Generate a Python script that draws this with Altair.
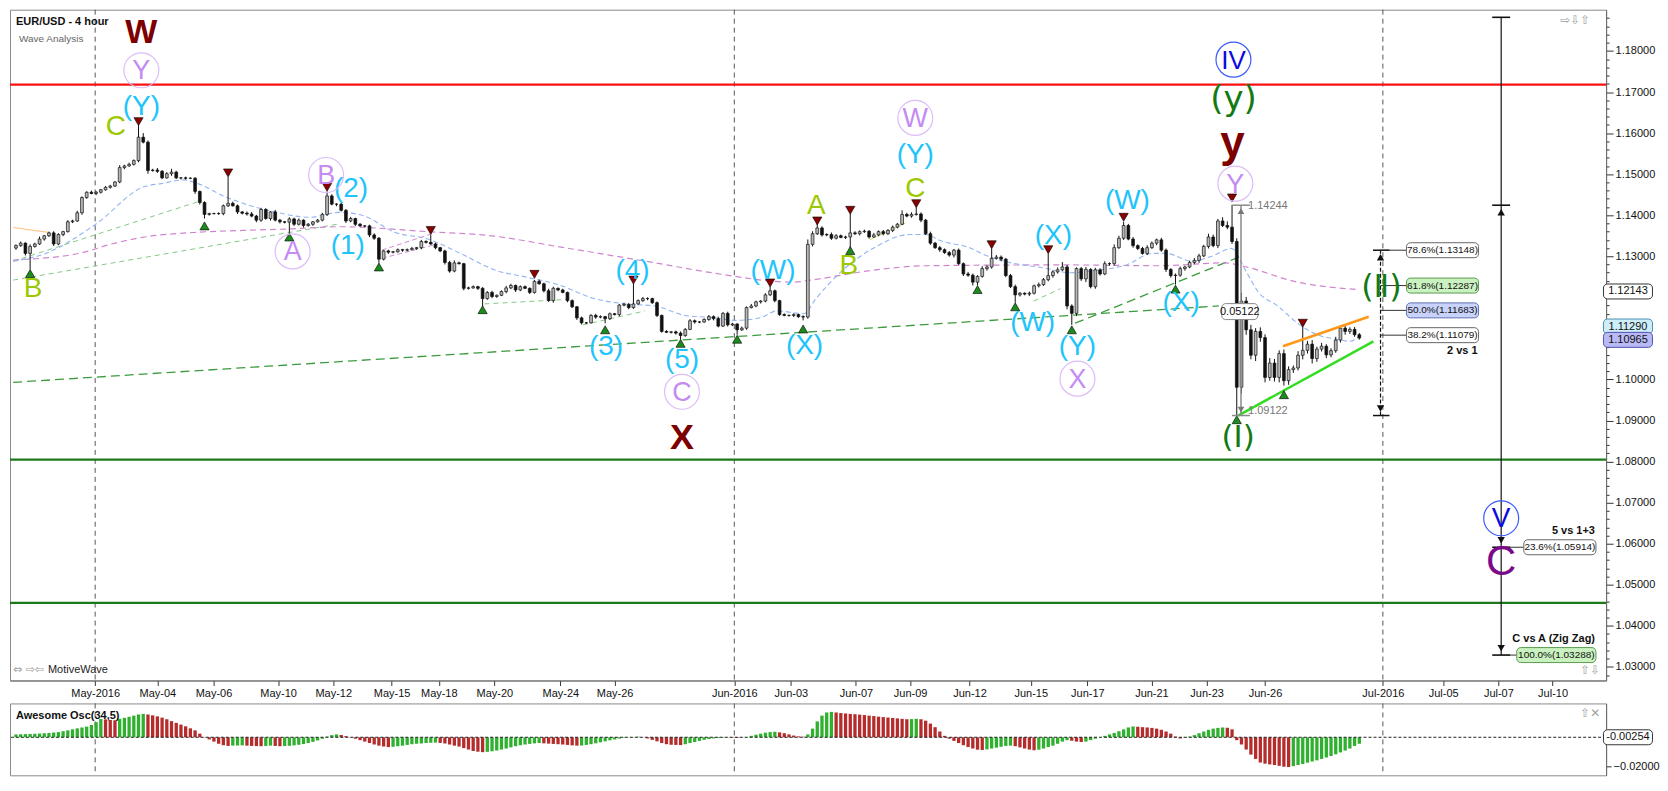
import altair as alt
import pandas as pd

FONT = "Liberation Sans"

# ---------------- data ----------------
first_open = 1.1320
closes = [
    1.1326, 1.1332, 1.1307, 1.1324, 1.1330, 1.1342, 1.1350, 1.1357, 1.1330, 1.1353,
    1.1360, 1.1384, 1.1386, 1.1406, 1.1443, 1.1456, 1.1453, 1.1456, 1.1462, 1.1468,
    1.1471, 1.1481, 1.1516, 1.1520, 1.1524, 1.1533, 1.1590, 1.1578, 1.1509, 1.1510,
    1.1507, 1.1491, 1.1501, 1.1505, 1.1491, 1.1491, 1.1490, 1.1490, 1.1458, 1.1431,
    1.1402, 1.1404, 1.1404, 1.1404, 1.1423, 1.1429, 1.1423, 1.1408, 1.1405, 1.1403,
    1.1398, 1.1388, 1.1414, 1.1392, 1.1408, 1.1388, 1.1384, 1.1383, 1.1391, 1.1378,
    1.1388, 1.1375, 1.1378, 1.1384, 1.1388, 1.1402, 1.1447, 1.1427, 1.1427, 1.1412,
    1.1386, 1.1392, 1.1378, 1.1374, 1.1374, 1.1352, 1.1344, 1.1293, 1.1313, 1.1310,
    1.1311, 1.1316, 1.1315, 1.1316, 1.1319, 1.1321, 1.1336, 1.1334, 1.1330, 1.1321,
    1.1313, 1.1285, 1.1264, 1.1284, 1.1282, 1.1222, 1.1223, 1.1226, 1.1222, 1.1197,
    1.1212, 1.1202, 1.1205, 1.1214, 1.1223, 1.1229, 1.1218, 1.1226, 1.1222, 1.1212,
    1.1239, 1.1233, 1.1216, 1.1192, 1.1222, 1.1218, 1.1212, 1.1192, 1.1177, 1.1150,
    1.1138, 1.1138, 1.1156, 1.1152, 1.1153, 1.1148, 1.1160, 1.1158, 1.1181, 1.1183,
    1.1175, 1.1184, 1.1192, 1.1197, 1.1197, 1.1187, 1.1156, 1.1117, 1.1115, 1.1116,
    1.1113, 1.1107, 1.1122, 1.1143, 1.1140, 1.1140, 1.1146, 1.1153, 1.1148, 1.1130,
    1.1161, 1.1133, 1.1135, 1.1121, 1.1125, 1.1175, 1.1179, 1.1189, 1.1191, 1.1206,
    1.1216, 1.1192, 1.1158, 1.1156, 1.1156, 1.1158, 1.1153, 1.1152, 1.1329, 1.1355,
    1.1369, 1.1352, 1.1353, 1.1344, 1.1350, 1.1346, 1.1347, 1.1357, 1.1355, 1.1360,
    1.1361, 1.1347, 1.1352, 1.1360, 1.1355, 1.1363, 1.1371, 1.1378, 1.1402, 1.1398,
    1.1402, 1.1403, 1.1388, 1.1355, 1.1332, 1.1321, 1.1316, 1.1309, 1.1303, 1.1315,
    1.1282, 1.1257, 1.1254, 1.1237, 1.1251, 1.1270, 1.1274, 1.1295, 1.1298, 1.1293,
    1.1253, 1.1226, 1.1206, 1.1210, 1.1208, 1.1210, 1.1228, 1.1231, 1.1243, 1.1253,
    1.1262, 1.1267, 1.1274, 1.1179, 1.1161, 1.1270, 1.1245, 1.1268, 1.1226, 1.1267,
    1.1257, 1.1282, 1.1282, 1.1321, 1.1344, 1.1375, 1.1342, 1.1326, 1.1319, 1.1307,
    1.1321, 1.1332, 1.1340, 1.1315, 1.1268, 1.1253, 1.1254, 1.1270, 1.1274, 1.1285,
    1.1290, 1.1301, 1.1324, 1.1347, 1.1326, 1.1386, 1.1375, 1.1371, 1.1336, 1.0981,
    1.1191, 1.1121, 1.1059, 1.1117, 1.1102, 1.1005, 1.1040, 1.1005, 1.1063, 1.0997,
    1.1024, 1.1028, 1.1059, 1.1071, 1.1086, 1.1051, 1.1074, 1.1081, 1.1060, 1.1070,
    1.1096, 1.1125, 1.1117, 1.1122, 1.1109, 1.1101,
]
# upper / lower shadow lengths in pips
wick_hi = [
    3, 4, 2, 5, 3, 6, 2, 3, 4, 3,   2, 4, 3, 5, 3, 2, 4, 3, 2, 3,
    3, 2, 6, 3, 4, 3, 31, 10, 4, 3,  5, 3, 4, 8, 3, 2, 3, 2, 3, 2,
    3, 2, 2, 3, 3, 64, 4, 3, 2, 4,  5, 3, 4, 3, 2, 5, 3, 2, 4, 3,
    4, 2, 3, 2, 3, 4, 11, 4, 2, 3,  3, 4, 2, 3, 2, 3, 4, 3, 2, 3,
    2, 3, 2, 3, 4, 2, 4, 3, 18, 3,  2, 3, 4, 6, 3, 2, 3, 3, 2, 3,
    3, 4, 2, 3, 5, 4, 2, 3, 3, 2,   3, 4, 3, 5, 4, 2, 3, 2, 3, 2,
    3, 2, 3, 4, 3, 2, 3, 2, 3, 4,   3, 49, 3, 4, 3, 2, 3, 2, 3, 2,
    3, 4, 3, 4, 3, 2, 3, 4, 3, 5,   3, 4, 3, 2, 4, 3, 5, 3, 2, 4,
    10, 3, 2, 3, 2, 3, 2, 3, 12, 6, 10, 4, 3, 5, 4, 3, 3, 46, 4, 3,
    4, 3, 5, 3, 4, 3, 4, 3, 10, 4,  5, 16, 4, 3, 5, 3, 4, 3, 4, 3,
    4, 3, 5, 4, 3, 6, 4, 24, 5, 4,  3, 4, 5, 3, 2, 4, 3, 5, 4, 54,
    4, 6, 12, 5, 4, 3, 4, 6, 3, 5,  4, 6, 3, 8, 6, 9, 4, 5, 3, 4,
    6, 4, 3, 5, 4, 3, 4, 5, 3, 4,   6, 5, 4, 8, 6, 5, 9, 10, 54, 8,
    20, 10, 12, 8, 10, 8, 12, 10, 8, 10, 8, 6, 10, 57, 8, 10, 6, 8, 5, 6,
    8, 6, 10, 5, 6, 4,
]
wick_lo = [
    4, 3, 5, 39, 3, 2, 4, 3, 5, 3,  4, 2, 3, 2, 5, 3, 2, 4, 3, 2,
    3, 2, 3, 4, 2, 3, 4, 3, 8, 3,   4, 3, 2, 5, 3, 4, 3, 2, 6, 5,
    10, 3, 2, 3, 4, 3, 2, 5, 3, 4,  3, 5, 4, 3, 5, 3, 4, 3, 26, 4,
    3, 5, 3, 4, 2, 3, 4, 3, 5, 3,   5, 3, 4, 2, 3, 5, 4, 9, 3, 4,
    3, 2, 4, 3, 2, 3, 4, 3, 2, 4,   3, 5, 4, 3, 2, 5, 3, 2, 4, 19,
    3, 4, 3, 2, 4, 3, 5, 3, 2, 4,   3, 2, 4, 3, 5, 3, 2, 4, 3, 5,
    4, 3, 2, 4, 3, 11, 3, 2, 4, 3,  4, 3, 2, 3, 4, 3, 4, 3, 2, 3,
    4, 9, 3, 2, 4, 3, 2, 3, 4, 3,   2, 4, 3, 12, 3, 4, 2, 3, 4, 3,
    3, 4, 3, 2, 3, 4, 3, 8, 4, 5,   3, 4, 3, 4, 3, 2, 4, 29, 3, 4,
    3, 4, 2, 3, 4, 3, 4, 3, 2, 3,   4, 3, 5, 3, 4, 3, 5, 3, 4, 6,
    3, 5, 4, 8, 8, 3, 5, 4, 3, 5,   4, 3, 19, 4, 3, 5, 3, 4, 3, 4,
    5, 4, 3, 8, 28, 6, 5, 8, 4, 5,  4, 3, 5, 4, 3, 4, 3, 5, 4, 3,
    4, 3, 5, 4, 6, 5, 22, 4, 5, 3,  4, 6, 3, 5, 4, 6, 4, 5, 6, 69,
    15, 12, 10, 14, 10, 12, 8, 10, 12, 12, 10, 8, 6, 10, 8, 12, 8, 6, 8, 6,
    5, 6, 8, 6, 5, 4,
]
# Awesome Oscillator (34,5), one value per bar
ao_values = [
    0.0020, 0.0021, 0.0022, 0.0023, 0.0024, 0.0026, 0.0028, 0.0030, 0.0033, 0.0036,
    0.0042, 0.0048, 0.0055, 0.0062, 0.0068, 0.0074, 0.0085, 0.0105, 0.0126, 0.0124,
    0.0120, 0.0118, 0.0128, 0.0135, 0.0142, 0.0150, 0.0158, 0.0162, 0.0158, 0.0152,
    0.0145, 0.0136, 0.0125, 0.0112, 0.0100, 0.0088, 0.0076, 0.0062, 0.0048, 0.0025,
    0.0002, -0.0015, -0.0030, -0.0045, -0.0055, -0.0060, -0.0058, -0.0057, -0.0056, -0.0058,
    -0.0060, -0.0061, -0.0062, -0.0060, -0.0058, -0.0060, -0.0062, -0.0061, -0.0059, -0.0056,
    -0.0052, -0.0047, -0.0040, -0.0032, -0.0022, -0.0010, 0.0005, 0.0015, 0.0020, 0.0016,
    0.0008, -0.0002, -0.0010, -0.0020, -0.0030, -0.0040, -0.0050, -0.0058, -0.0064, -0.0068,
    -0.0066, -0.0062, -0.0058, -0.0053, -0.0048, -0.0045, -0.0043, -0.0040, -0.0038, -0.0037,
    -0.0039, -0.0043, -0.0050, -0.0058, -0.0064, -0.0075, -0.0085, -0.0095, -0.0100, -0.0103,
    -0.0101, -0.0097, -0.0092, -0.0085, -0.0078, -0.0070, -0.0062, -0.0055, -0.0050, -0.0046,
    -0.0042, -0.0040, -0.0042, -0.0044, -0.0046, -0.0048, -0.0050, -0.0053, -0.0056, -0.0058,
    -0.0057, -0.0053, -0.0048, -0.0042, -0.0035, -0.0028, -0.0021, -0.0015, -0.0009, -0.0004,
    -0.0001, 0.0002, 0.0004, 0.0001, -0.0008, -0.0018, -0.0028, -0.0040, -0.0048, -0.0052,
    -0.0053, -0.0054, -0.0048, -0.0040, -0.0033, -0.0025, -0.0018, -0.0012, -0.0008, -0.0005,
    -0.0003, -0.0002, -0.0003, -0.0005, -0.0003, 0.0002, 0.0010, 0.0018, 0.0025, 0.0032,
    0.0036, 0.0038, 0.0034, 0.0028, 0.0020, 0.0012, 0.0006, 0.0004, 0.0020, 0.0060,
    0.0110, 0.0150, 0.0172, 0.0176, 0.0172, 0.0168, 0.0165, 0.0162, 0.0160, 0.0157,
    0.0154, 0.0150, 0.0147, 0.0143, 0.0140, 0.0137, 0.0134, 0.0131, 0.0128, 0.0125,
    0.0126, 0.0128, 0.0125, 0.0115, 0.0095, 0.0070, 0.0040, 0.0010, -0.0010, -0.0025,
    -0.0040, -0.0055, -0.0068, -0.0078, -0.0086, -0.0088, -0.0084, -0.0078, -0.0072, -0.0066,
    -0.0060, -0.0058, -0.0062, -0.0070, -0.0078, -0.0085, -0.0090, -0.0086, -0.0078, -0.0068,
    -0.0058, -0.0045, -0.0030, -0.0020, -0.0024, -0.0030, -0.0033, -0.0030, -0.0020, -0.0010,
    0.0000, 0.0010, 0.0020, 0.0030, 0.0042, 0.0055, 0.0068, 0.0075, 0.0073, 0.0070,
    0.0068, 0.0065, 0.0060, 0.0052, 0.0040, 0.0025, 0.0005, -0.0008, -0.0004, 0.0005,
    0.0015, 0.0028, 0.0040, 0.0052, 0.0060, 0.0065, 0.0068, 0.0066, 0.0055, -0.0020,
    -0.0050, -0.0085, -0.0120, -0.0150, -0.0175, -0.0183, -0.0188, -0.0192, -0.0198, -0.0204,
    -0.0206, -0.0200, -0.0192, -0.0185, -0.0176, -0.0168, -0.0160, -0.0150, -0.0140, -0.0130,
    -0.0118, -0.0105, -0.0092, -0.0078, -0.0060, -0.0045,
]

tick_pos = [16.8, 30.0, 41.9, 55.6, 67.3, 79.7, 89.7, 101.5, 115.5, 127.0, 152.4, 164.4,
            178.2, 189.7, 202.3, 215.3, 227.3, 240.9, 252.6, 265.0, 290.0, 302.8, 314.5, 326.0]
tick_lab = ["May-2016", "May-04", "May-06", "May-10", "May-12", "May-15", "May-18", "May-20",
            "May-24", "May-26", "Jun-2016", "Jun-03", "Jun-07", "Jun-09", "Jun-12", "Jun-15",
            "Jun-17", "Jun-21", "Jun-23", "Jun-26", "Jul-2016", "Jul-05", "Jul-07", "Jul-10"]
month_pos = [16.8, 152.4, 290.0]

ma_fast = [(-0.6, 1.1288), (6.3, 1.1307), (16.8, 1.1377), (27.3, 1.1470), (30.8, 1.1477),
           (35.6, 1.1486), (38.6, 1.1477), (44.0, 1.1447), (55.3, 1.1407), (62.3, 1.1395),
           (68.6, 1.1407), (73.4, 1.1400), (80.5, 1.1358), (87.4, 1.1342), (94.3, 1.1307),
           (101.5, 1.1267), (108.4, 1.1249), (115.3, 1.1230), (122.4, 1.1198), (129.4, 1.1184),
           (135.6, 1.1179), (141.9, 1.1156), (147.6, 1.1151), (153.0, 1.1144), (158.1, 1.1151),
           (161.4, 1.1167), (167.1, 1.1160), (169.8, 1.1198), (175.5, 1.1267), (182.4, 1.1323),
           (189.5, 1.1353), (192.9, 1.1353), (196.4, 1.1337), (202.7, 1.1319), (204.8, 1.1307),
           (211.1, 1.1284), (218.0, 1.1272), (223.7, 1.1260), (228.5, 1.1265), (235.6, 1.1279),
           (241.1, 1.1307), (244.0, 1.1307), (249.5, 1.1288), (253.7, 1.1300), (257.9, 1.1319),
           (260.8, 1.1267), (263.5, 1.1214), (267.7, 1.1179), (271.9, 1.1137), (276.1, 1.1109),
           (280.3, 1.1098), (283.0, 1.1093), (285.1, 1.1105)]
ma_slow = [(-0.6, 1.1291), (13.4, 1.1307), (20.3, 1.1330), (27.3, 1.1347), (37.7, 1.1358),
           (48.2, 1.1363), (58.7, 1.1367), (68.6, 1.1372), (87.4, 1.1360), (101.5, 1.1349),
           (115.3, 1.1323), (135.6, 1.1284), (147.6, 1.1260), (165.0, 1.1237), (168.6, 1.1242),
           (182.4, 1.1267), (192.9, 1.1277), (221.6, 1.1279), (242.6, 1.1277), (256.6, 1.1284),
           (260.0, 1.1277), (271.9, 1.1237), (284.5, 1.1219)]
ma_orange = [(-0.6, 1.1370), (7.1, 1.1358)]

level_lines = [(1.1718, "#ff1010"), (1.0805, "#1c7a1c"), (1.0456, "#1c7a1c")]

trend_dash = [("long", -0.6, 1.0993, 255.2, 1.1179), ("rise", 224.7, 1.1137, 259.9, 1.1300)]
trend_thin_green = [("b1", -0.6, 1.1242, 68.6, 1.1379), ("b2", -0.6, 1.1288, 39.2, 1.1435),
                    ("t3", 99.4, 1.1184, 116.8, 1.1195), ("t4", 120.3, 1.1133, 133.5, 1.1167),
                    ("t5", 215.9, 1.1191, 221.6, 1.1221)]
trend_thin_pink = [("p1", 77.6, 1.1295, 89.5, 1.1330), ("p2", 77.6, 1.1315, 88.8, 1.1357)]
trend_thin_yellow = [("y1", 181.1, 1.1340, 188.7, 1.1381)]
wedge = [("top", 268.8, 1.1081, 287.0, 1.1153, "#ff9818"), ("bot", 259.3, 1.0912, 288.0, 1.1093, "#33dd22")]

tri_down = [(26, 1.1628), (45, 1.1503), (66, 1.1468), (88, 1.1363), (110, 1.1256), (131, 1.1242),
            (160, 1.1235), (170, 1.1386), (177, 1.1412), (191, 1.1428), (207, 1.1328), (219, 1.1316),
            (235, 1.1395), (258, 1.1442), (273, 1.1137)]
tri_up = [(3, 1.1258), (40, 1.1374), (58, 1.1347), (77, 1.1274), (99, 1.1170), (125, 1.1121),
          (141, 1.1088), (153, 1.1098), (167, 1.1123), (177, 1.1314), (204, 1.1219), (212, 1.1177),
          (224, 1.1121), (246, 1.1220), (259, 1.0902), (269, 1.0963)]

lab_cyan = [("(Y)", 26.6, 1.1663), ("(2)", 71.1, 1.1463), ("(1)", 70.4, 1.1326), ("(3)", 125.2, 1.1079),
            ("(4)", 130.8, 1.1265), ("(5)", 141.3, 1.1047), ("(W)", 160.6, 1.1265), ("(X)", 167.3, 1.1081),
            ("(Y)", 190.8, 1.1547), ("(X)", 220.1, 1.1349), ("(W)", 215.7, 1.1137), ("(Y)", 225.2, 1.1079),
            ("(W)", 235.8, 1.1435), ("(X)", 247.2, 1.1186)]
lab_yg = [("C", 21.2, 1.1616), ("B", 3.6, 1.1221), ("A", 169.8, 1.1423), ("B", 176.7, 1.1277), ("C", 190.8, 1.1465)]
lab_purple = [("Y", 26.6, 1.1753), ("B", 65.8, 1.1498), ("A", 58.7, 1.1312), ("C", 141.3, 1.0970),
              ("W", 190.8, 1.1637), ("X", 225.2, 1.1002), ("Y", 258.7, 1.1477)]
lab_maroon = [("W", 26.6, 1.1844, 34), ("X", 141.3, 1.0858, 36), ("y", 258.1, 1.1574, 44)]
lab_dkgreen = [("(y)", 258.3, 1.1681, 34), ("(Ⅱ)", 289.7, 1.1226, 32), ("(Ⅰ)", 259.3, 1.0857, 31)]
lab_blue = [("IV", 258.3, 1.1779, 26), ("V", 315.1, 1.0662, 28)]
lab_purple_c = [("C", 315.1, 1.0556)]

fib_levels = [("78.6%(1.13148)", 1.13148, "#ffffff", "#666666"),
              ("61.8%(1.12287)", 1.12287, "#c9f2c0", "#5a9a50"),
              ("50.0%(1.11683)", 1.11683, "#c8d2fa", "#6070b0"),
              ("38.2%(1.11079)", 1.11079, "#ffffff", "#666666")]
fib_low, fib_high = 1.09122, 1.13148
tool_levels = [("23.6%(1.05914)", 319.9, 1.05914, "#ffffff", "#666666"),
               ("100.0%(1.03288)", 318.4, 1.03288, "#c9f2c0", "#5a9a50")]
tool_top = 1.1882
measure_hi, measure_lo, measure_diff = 1.14244, 1.09122, "0.05122"
axis_tags = [("1.12143", 1.12143, "#ffffff", "#333333"),
             ("1.11290", 1.11290, "#cdeef9", "#4a90b0"),
             ("1.10965", 1.10965, "#b9b9f6", "#5050b0")]
hidden_axis_labels = [1.11, 1.12]   # price-axis labels covered by the tags above
ao_tag = "-0.00254"

# ---------------- layout ----------------
W, H, HO = 1599, 672, 72
XD = [-0.21, 336.3]
YD = [1.02791, 1.18884]
OD = [-0.0229, 0.0200]
FIB_X, TOOL_X, MEAS_X = 289.5, 315.1, 259.9
TAG_X1, TAG_X2 = 336.8, 347.2

xs = alt.Scale(domain=XD, nice=False, zero=False)
ys = alt.Scale(domain=YD, nice=False, zero=False)
os_ = alt.Scale(domain=OD, nice=False, zero=False)

label_expr = " : ".join([f"abs(datum.value - {v}) < 0.01 ? '{t}'" for v, t in zip(tick_pos, tick_lab)]) + " : ''"
x_axis = alt.Axis(values=tick_pos, labelExpr=label_expr, title=None, grid=False, tickSize=5,
                  labelFontSize=11, labelFont=FONT, labelColor="#111", tickColor="#333",
                  domainColor="#666", labelPadding=2, labelOverlap=False, labelFlush=False)
y_ticks = [round(1.028 + 0.002 * k, 3) for k in range(81)]
is_major = "abs(datum.value*100 - round(datum.value*100)) < 0.001"
hidden = " && ".join([f"abs(datum.value - {v}) > 0.0005" for v in hidden_axis_labels])
y_axis = alt.Axis(orient="right", values=y_ticks, title=None, grid=False,
                  labelExpr=f"({is_major}) && ({hidden}) ? format(datum.value, '.5f') : ''",
                  tickSize={"condition": {"test": is_major, "value": 7}, "value": 3},
                  labelFontSize=11, labelFont=FONT, labelColor="#111", tickColor="#333",
                  domainColor="#666", labelOverlap=False, labelPadding=2, labelFlush=False)


def X(f="i"):
    return alt.X(f"{f}:Q", scale=xs, axis=x_axis)


def Y(f="p"):
    return alt.Y(f"{f}:Q", scale=ys, axis=y_axis)


def seg_df(segs):
    rows = []
    for s in segs:
        rows.append(dict(seg=s[0], i=s[1], p=s[2]))
        rows.append(dict(seg=s[0], i=s[3], p=s[4]))
    return pd.DataFrame(rows)


def text_layer(items, color, size, weight="normal", font=FONT, dy=0):
    df = pd.DataFrame([it[:3] for it in items], columns=["t", "i", "p"])
    return alt.Chart(df).mark_text(color=color, fontSize=size, fontWeight=weight, font=font,
                                   baseline="middle", align="center", dy=dy).encode(
        x=X(), y=Y(), text="t:N")


def circle_layer(items, stroke, size=1225):
    df = pd.DataFrame([it[:3] for it in items], columns=["t", "i", "p"])
    return alt.Chart(df).mark_point(shape="circle", size=size, filled=False, color=stroke,
                                    strokeWidth=1.2, opacity=1).encode(x=X(), y=Y())


def fixed_text(txt, x, y, size=11, color="#111", weight="normal", align="left", font=FONT):
    return alt.Chart(pd.DataFrame({"t": [txt]})).mark_text(
        align=align, baseline="middle", fontSize=size, color=color, fontWeight=weight, font=font
    ).encode(x=alt.value(x), y=alt.value(y), text="t:N")


def box_layers(rows, xenc, yenc, size=15, fsize=10):
    df = pd.DataFrame(rows, columns=["t", "i1", "i2", "p", "fill", "stroke"])
    df["ic"] = (df["i1"] + df["i2"]) / 2
    bars = alt.Chart(df).mark_bar(orient="horizontal", size=size, cornerRadius=4, strokeWidth=1).encode(
        x=xenc("i1"), x2="i2:Q", y=yenc("p"),
        fill=alt.Fill("fill:N", scale=None), stroke=alt.Stroke("stroke:N", scale=None))
    txt = alt.Chart(df).mark_text(fontSize=fsize, font=FONT, color="#111", baseline="middle").encode(
        x=xenc("ic"), y=yenc("p"), text="t:N")
    return [bars, txt]


# ---------------- candles ----------------
n = min(len(closes), len(wick_hi), len(wick_lo), len(ao_values))
rows = []
prev = first_open
for k in range(n):
    o, c = prev, closes[k]
    rows.append(dict(i=k, o=o, c=c, h=max(o, c) + wick_hi[k] / 10000.0,
                     l=min(o, c) - wick_lo[k] / 10000.0, up=bool(c >= o)))
    prev = c
candles = pd.DataFrame(rows)

layers = []
# month separators
layers.append(alt.Chart(pd.DataFrame({"i": month_pos})).mark_rule(
    color="#555", strokeDash=[5, 4], strokeWidth=1).encode(x=X()))
# horizontal levels
layers.append(alt.Chart(pd.DataFrame(level_lines, columns=["p", "col"])).mark_rule(strokeWidth=2.2).encode(
    y=Y(), color=alt.Color("col:N", scale=None)))
# trend lines
layers.append(alt.Chart(seg_df(trend_dash)).mark_line(color="#3c9b3c", strokeWidth=1.3, strokeDash=[9, 5], clip=True)
              .encode(x=X(), y=Y(), detail="seg:N"))
layers.append(alt.Chart(seg_df(trend_thin_green)).mark_line(color="#86c886", strokeWidth=1, strokeDash=[5, 4], clip=True)
              .encode(x=X(), y=Y(), detail="seg:N"))
layers.append(alt.Chart(seg_df(trend_thin_pink)).mark_line(color="#d38cd3", strokeWidth=1, strokeDash=[5, 3], clip=True)
              .encode(x=X(), y=Y(), detail="seg:N"))
layers.append(alt.Chart(seg_df(trend_thin_yellow)).mark_line(color="#c8e070", strokeWidth=1, clip=True)
              .encode(x=X(), y=Y(), detail="seg:N"))
# moving averages
layers.append(alt.Chart(pd.DataFrame(ma_slow, columns=["i", "p"])).mark_line(
    color="#cf86cf", strokeWidth=1.2, strokeDash=[6, 4], interpolate="monotone", clip=True).encode(x=X(), y=Y()))
layers.append(alt.Chart(pd.DataFrame(ma_fast, columns=["i", "p"])).mark_line(
    color="#94b4f2", strokeWidth=1.1, strokeDash=[5, 3], interpolate="monotone", clip=True).encode(x=X(), y=Y()))
layers.append(alt.Chart(pd.DataFrame(ma_orange, columns=["i", "p"])).mark_line(
    color="#ffbf80", strokeWidth=1.1, clip=True).encode(x=X(), y=Y()))
# candles
layers.append(alt.Chart(candles).mark_rule(color="#111", strokeWidth=1).encode(x=X(), y=Y("l"), y2="h:Q"))
layers.append(alt.Chart(candles).mark_bar(size=2.8, stroke="#111", strokeWidth=0.7).encode(
    x=X(), y=Y("o"), y2="c:Q",
    fill=alt.condition("datum.up", alt.value("#b8b8b8"), alt.value("#111111"))))
# wedge lines
for name, i1, p1, i2, p2, col in wedge:
    layers.append(alt.Chart(seg_df([(name, i1, p1, i2, p2)])).mark_line(color=col, strokeWidth=2.6)
                  .encode(x=X(), y=Y()))
# pivot triangles
layers.append(alt.Chart(pd.DataFrame(tri_down, columns=["i", "p"])).mark_point(
    shape="triangle-down", filled=True, size=85, color="#8b0000", stroke="#000", strokeWidth=0.6, opacity=1)
    .encode(x=X(), y=Y()))
layers.append(alt.Chart(pd.DataFrame(tri_up, columns=["i", "p"])).mark_point(
    shape="triangle-up", filled=True, size=85, color="#1c8a1c", stroke="#000", strokeWidth=0.6, opacity=1)
    .encode(x=X(), y=Y()))

# measurement tool (grey)
meas_v = pd.DataFrame({"i": [MEAS_X], "p1": [measure_lo], "p2": [measure_hi]})
layers.append(alt.Chart(meas_v).mark_rule(color="#8a8a8a", strokeWidth=1.5).encode(x=X(), y=Y("p1"), y2="p2:Q"))
meas_caps = pd.DataFrame({"i1": [MEAS_X - 1.9] * 2, "i2": [MEAS_X + 1.9] * 2, "p": [measure_lo, measure_hi]})
layers.append(alt.Chart(meas_caps).mark_rule(color="#8a8a8a", strokeWidth=1.5).encode(x=X("i1"), x2="i2:Q", y=Y()))
layers.append(alt.Chart(pd.DataFrame({"i": [MEAS_X], "p": [measure_hi]})).mark_point(
    shape="triangle-up", filled=True, size=45, color="#777", opacity=1, yOffset=6).encode(x=X(), y=Y()))
layers.append(alt.Chart(pd.DataFrame({"i": [MEAS_X], "p": [measure_lo]})).mark_point(
    shape="triangle-down", filled=True, size=45, color="#777", opacity=1, yOffset=-6).encode(x=X(), y=Y()))
layers.append(alt.Chart(pd.DataFrame({"t": [f"{measure_hi:.5f}", f"{measure_lo:.5f}"], "i": [MEAS_X + 1.5] * 2,
                                      "p": [measure_hi - 0.0003, measure_lo + 0.0012]}))
              .mark_text(align="left", baseline="middle", fontSize=11, font=FONT, color="#777")
              .encode(x=X(), y=Y(), text="t:N"))
layers += box_layers([(measure_diff, MEAS_X - 4.1, MEAS_X + 3.6, (measure_hi + measure_lo) / 2 - 0.0003,
                       "#ffffff", "#888888")], X, Y, size=16, fsize=11)

# Fibonacci retracement tool
layers.append(alt.Chart(pd.DataFrame({"i": [FIB_X], "p1": [fib_low], "p2": [fib_high]})).mark_rule(
    color="#111", strokeWidth=1.2, strokeDash=[4, 2]).encode(x=X(), y=Y("p1"), y2="p2:Q"))
layers.append(alt.Chart(pd.DataFrame({"i1": [FIB_X - 1.6] * 2, "i2": [FIB_X + 1.9] * 2, "p": [fib_low, fib_high]}))
              .mark_rule(color="#111", strokeWidth=1.5).encode(x=X("i1"), x2="i2:Q", y=Y()))
layers.append(alt.Chart(pd.DataFrame({"i1": [FIB_X] * 4, "i2": [295.0] * 4, "p": [f[1] for f in fib_levels]}))
              .mark_rule(color="#333", strokeWidth=1).encode(x=X("i1"), x2="i2:Q", y=Y()))
layers.append(alt.Chart(pd.DataFrame({"i": [FIB_X], "p": [fib_high]})).mark_point(
    shape="triangle-up", filled=True, size=55, color="#111", opacity=1, yOffset=7).encode(x=X(), y=Y()))
layers.append(alt.Chart(pd.DataFrame({"i": [FIB_X], "p": [fib_low]})).mark_point(
    shape="triangle-down", filled=True, size=55, color="#111", opacity=1, yOffset=-7).encode(x=X(), y=Y()))
layers += box_layers([(t, 295.0, 310.3, p, f, s) for t, p, f, s in fib_levels], X, Y)
layers.append(alt.Chart(pd.DataFrame({"t": ["2 vs 1"], "i": [310.1], "p": [1.1070]})).mark_text(
    align="right", baseline="middle", fontSize=11, fontWeight="bold", font=FONT, color="#111")
    .encode(x=X(), y=Y(), text="t:N"))

# right projection tool
layers.append(alt.Chart(pd.DataFrame({"i": [TOOL_X], "p1": [tool_levels[1][2]], "p2": [tool_top]})).mark_rule(
    color="#111", strokeWidth=1.2).encode(x=X(), y=Y("p1"), y2="p2:Q"))
cap_ps = [tool_top, measure_hi, tool_levels[0][2], tool_levels[1][2]]
layers.append(alt.Chart(pd.DataFrame({"i1": [TOOL_X - 1.9] * 4, "i2": [TOOL_X + 1.9] * 4, "p": cap_ps}))
              .mark_rule(color="#111", strokeWidth=1.6).encode(x=X("i1"), x2="i2:Q", y=Y()))
layers.append(alt.Chart(pd.DataFrame({"i1": [TOOL_X] * 2, "i2": [tool_levels[0][1], tool_levels[1][1]],
                                      "p": [tool_levels[0][2], tool_levels[1][2]]}))
              .mark_rule(color="#333", strokeWidth=1).encode(x=X("i1"), x2="i2:Q", y=Y()))
layers.append(alt.Chart(pd.DataFrame({"i": [TOOL_X], "p": [measure_hi]})).mark_point(
    shape="triangle-up", filled=True, size=55, color="#111", opacity=1, yOffset=7).encode(x=X(), y=Y()))
layers.append(alt.Chart(pd.DataFrame({"i": [TOOL_X] * 2, "p": [tool_levels[0][2], tool_levels[1][2]]})).mark_point(
    shape="triangle-down", filled=True, size=55, color="#111", opacity=1, yOffset=-7).encode(x=X(), y=Y()))
layers += box_layers([(t, x1, 335.2, p, f, s) for t, x1, p, f, s in tool_levels], X, Y)
layers.append(alt.Chart(pd.DataFrame({"t": ["5 vs 1+3", "C vs A (Zig Zag)"], "i": [335.0, 335.0],
                                      "p": [1.0630, 1.0367]})).mark_text(
    align="right", baseline="middle", fontSize=11, fontWeight="bold", font=FONT, color="#111")
    .encode(x=X(), y=Y(), text="t:N"))

# wave labels
layers.append(text_layer(lab_cyan, "#1ec4fb", 28))
layers.append(text_layer(lab_yg, "#9bc800", 28))
layers.append(circle_layer(lab_purple, "#dcbdf8"))
layers.append(text_layer(lab_purple, "#c48cf2", 27, dy=1))
for t, i, p, s in lab_maroon:
    layers.append(text_layer([(t, i, p)], "#7d0000", s, weight="bold"))
for t, i, p, s in lab_dkgreen:
    layers.append(text_layer([(t, i, p)], "#137a13", s, font="DejaVu Sans"))
layers.append(circle_layer(lab_blue, "#3b5bff"))
for t, i, p, s in lab_blue:
    layers.append(text_layer([(t, i, p)], "#0a0ae0", s, dy=1))
layers.append(text_layer(lab_purple_c, "#7b0a8a", 42))

# price tags on the axis
layers += box_layers([(t, TAG_X1, TAG_X2, p, f, s) for t, p, f, s in axis_tags], X, Y, size=15, fsize=11)

# corner texts
layers.append(fixed_text("EUR/USD - 4 hour", 6, 12, 11, "#111", "bold"))
layers.append(fixed_text("Wave Analysis", 9, 29, 10, "#666"))
layers.append(fixed_text("⇔ ⇨⇦", 3, H - 10, 11, "#9a9a9a", font="DejaVu Sans"))
layers.append(fixed_text("MotiveWave", 38, H - 10, 11, "#222"))
layers.append(fixed_text("⇨⇩⇧", W - 46, 10, 12, "#a0a0a0", font="DejaVu Sans"))
layers.append(fixed_text("⇧⇩", W - 26, H - 10, 12, "#a0a0a0", font="DejaVu Sans"))

price = alt.layer(*layers).properties(width=W, height=H)

# ---------------- oscillator panel ----------------
osc_df = pd.DataFrame({"i": list(range(n)), "ao": ao_values[:n]})
osc_df["rise"] = osc_df["ao"].diff().fillna(0) >= 0
osc_df["zero"] = 0.0
XO = alt.X("i:Q", scale=xs, axis=None)
o_axis = alt.Axis(orient="right", values=[-0.02], format=".5f", title=None, grid=False,
                  labelFontSize=11, labelFont=FONT, labelColor="#111", tickSize=5,
                  tickColor="#333", domainColor="#666", labelPadding=2)


def XOf(f="i"):
    return alt.X(f"{f}:Q", scale=xs, axis=None)


def YOf(f="ao"):
    return alt.Y(f"{f}:Q", scale=os_, axis=o_axis)


olayers = [
    alt.Chart(pd.DataFrame({"i": month_pos})).mark_rule(color="#555", strokeDash=[5, 4], strokeWidth=1)
    .encode(x=XO),
    alt.Chart(osc_df).mark_bar(size=3.3).encode(
        x=XO, y=YOf("ao"), y2="zero:Q",
        color=alt.condition("datum.rise", alt.value("#2fb02f"), alt.value("#b52c2c"))),
    alt.Chart(pd.DataFrame({"ao": [0.0]})).mark_rule(color="#222", strokeDash=[3, 2], strokeWidth=1)
    .encode(y=YOf("ao")),
]
olayers += box_layers([(ao_tag, TAG_X1, TAG_X2, 0.0, "#ffffff", "#333333")], XOf, YOf, size=15, fsize=11)
olayers.append(fixed_text("Awesome Osc(34,5)", 6, 13, 11, "#111", "bold"))
olayers.append(fixed_text("⇧✕", W - 26, 10, 12, "#a0a0a0", font="DejaVu Sans"))

osc = alt.layer(*olayers).properties(width=W, height=HO)

chart = (
    alt.vconcat(price, osc, spacing=3)
    .resolve_scale(x="independent", y="independent")
    .properties(padding={"left": 0, "top": 0, "right": 0, "bottom": 0})
    .configure_view(stroke="#8a8a8a", strokeWidth=1)
)

chart.save("out.html", embed_options={"renderer": "svg", "actions": False})
